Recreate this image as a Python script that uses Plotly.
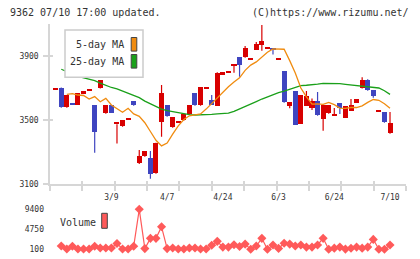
import plotly.graph_objects as go

# ---------------- data ----------------
days = list(range(61))
opens = [3688, 3700, 3579, 3608, 3596, 3664, 3683, 3595, 3698, 3541,
         3595, 3476, 3460, 3502, 3620, 3231, 3272, 3264, 3166, 3485,
         3595, 3454, 3482, 3497, 3537, 3670, 3591, 3695, 3627, 3589,
         3785, 3795, 3843, 3895, 3891, 3881, 3939, 3966, 3944, 3952,
         3876, 3808, 3585, 3683, 3477, 3589, 3577, 3620, 3508, 3541,
         3527, 3608, 3514, 3558, 3608, 3698, 3752, 3690, 3556, 3552,
         3416]
highs = [3688, 3705, 3654, 3608, 3670, 3683, 3683, 3595, 3752, 3595,
         3595, 3476, 3502, 3502, 3620, 3314, 3308, 3308, 3360, 3720,
         3595, 3520, 3482, 3537, 3595, 3670, 3708, 3695, 3658, 3800,
         3797, 3795, 3843, 3895, 3964, 3881, 3989, 4095, 3944, 3952,
         3876, 3808, 3614, 3683, 3658, 3683, 3637, 3677, 3596, 3595,
         3577, 3608, 3589, 3633, 3633, 3769, 3756, 3690, 3556, 3552,
         3552]
lows = [3688, 3579, 3579, 3596, 3596, 3664, 3683, 3297, 3698, 3541,
        3546, 3355, 3460, 3502, 3591, 3227, 3272, 3135, 3166, 3397,
        3522, 3454, 3482, 3497, 3537, 3591, 3591, 3695, 3595, 3589,
        3785, 3795, 3797, 3772, 3891, 3881, 3939, 3935, 3944, 3912,
        3876, 3610, 3575, 3470, 3477, 3589, 3564, 3529, 3435, 3541,
        3527, 3539, 3514, 3558, 3608, 3698, 3685, 3641, 3556, 3485,
        3416]
closes = [3688, 3579, 3654, 3596, 3670, 3683, 3683, 3422, 3752, 3595,
          3546, 3476, 3502, 3502, 3591, 3272, 3308, 3160, 3356, 3670,
          3522, 3520, 3482, 3537, 3595, 3591, 3708, 3695, 3595, 3794,
          3797, 3795, 3843, 3841, 3952, 3881, 3972, 3996, 3944, 3941,
          3876, 3610, 3614, 3470, 3658, 3652, 3620, 3529, 3596, 3595,
          3539, 3577, 3589, 3596, 3633, 3752, 3685, 3648, 3556, 3485,
          3483]

ma5_days = list(range(2, 61))
ma5 = [3662, 3667, 3658, 3655, 3633, 3648, 3616, 3637, 3596, 3575,
       3550, 3575, 3540, 3525, 3485, 3430, 3375, 3340, 3358, 3413,
       3465, 3505, 3528, 3534, 3540, 3570, 3606, 3644, 3677, 3710,
       3740, 3765, 3812, 3845, 3865, 3895, 3925, 3946, 3946, 3944,
       3873, 3795, 3702, 3646, 3601, 3603, 3600, 3612, 3598, 3576,
       3575, 3580, 3580, 3590, 3612, 3630, 3625, 3603, 3575]

ma25_days = list(range(1, 61))
ma25 = [3819, 3802, 3790, 3775, 3765, 3757, 3748, 3732, 3719, 3705,
        3697, 3683, 3672, 3656, 3642, 3620, 3603, 3585, 3570, 3560,
        3553, 3547, 3541, 3535, 3533, 3533, 3535, 3537, 3540, 3542,
        3545, 3556, 3570, 3584, 3598, 3617, 3633, 3648, 3661, 3673,
        3683, 3695, 3707, 3717, 3719, 3721, 3726, 3731, 3731, 3731,
        3729, 3725, 3721, 3716, 3713, 3710, 3707, 3702, 3685, 3662]

vol_days = list(range(1, 61))
volume = [800, 100, 750, 100, 100, 100, 750, 330, 330, 330,
          1400, 100, 100, 750, 9400, 200, 2600, 2600, 5300, 200,
          330, 100, 100, 330, 330, 100, 100, 1000, 1900, 550,
          550, 1100, 700, 1250, 50, 800, 2600, 50, 1050, 250,
          1450, 1250, 800, 1050, 550, 550, 1050, 2600, 50, 300,
          550, 80, 280, 550, 300, 550, 2350, 50, 50, 1050]

date_tick_days = [10, 20, 30, 40, 50, 60]
date_tick_labels = ["3/9", "4/7", "4/24", "6/3", "6/24", "7/10"]
price_ticks = [3100, 3500, 3900]
volume_ticks = [100, 4750, 9400]

# ---------------- style ----------------
W, H = 420, 259
ML, MR, MT, MB = 50, 14, 24, 4
RED = "#d80000"
BLUE = "#3f45c0"
ORANGE = "#f08c10"
GREEN = "#1aa01a"
VOLC = "#ff5a5a"
AXC = "#d6d6d6"
TXT = "#333333"
MONO = "DejaVu Sans Mono"
DOJI_H = 7  # minimal drawn body height (price units)

X_RANGE = [-1.02, 62.87]
P_RANGE = [3100, 4100]
V_RANGE = [-1300, 10880]


def xp(px):
    return (px - ML) / (W - ML - MR)


def yp(py):
    return (H - MB - py) / (H - MT - MB)


grid_ticks = [X_RANGE[0] + k * (X_RANGE[1] - X_RANGE[0]) / 11 for k in range(12)]

is_up = [c >= o for o, c in zip(opens, closes)]
colors = [RED if u else BLUE for u in is_up]
bases = [min(o, c) for o, c in zip(opens, closes)]
heights = [max(abs(c - o), DOJI_H) for o, c in zip(opens, closes)]

fig = go.Figure()

# wicks
for up, col in [(True, RED), (False, BLUE)]:
    wx, wy = [], []
    for d, hi, lo, u in zip(days, highs, lows, is_up):
        if u == up:
            wx += [d, d, None]
            wy += [lo, hi, None]
    fig.add_trace(go.Scatter(x=wx, y=wy, mode="lines",
                             line=dict(color=col, width=1.2),
                             showlegend=False, hoverinfo="skip",
                             xaxis="x", yaxis="y"))

# bodies
fig.add_trace(go.Bar(x=days, y=heights, base=bases, width=0.9,
                     marker=dict(color=colors, line=dict(width=0)),
                     showlegend=False, xaxis="x", yaxis="y"))

# moving averages
fig.add_trace(go.Scatter(x=ma25_days, y=ma25, mode="lines",
                         line=dict(color=GREEN, width=1.3),
                         showlegend=False, xaxis="x", yaxis="y"))
fig.add_trace(go.Scatter(x=ma5_days, y=ma5, mode="lines",
                         line=dict(color=ORANGE, width=1.3),
                         showlegend=False, xaxis="x", yaxis="y"))

# volume
fig.add_trace(go.Scatter(x=vol_days, y=volume, mode="lines+markers",
                         line=dict(color=VOLC, width=1.2),
                         marker=dict(symbol="diamond", size=7, color=VOLC),
                         showlegend=False, xaxis="x2", yaxis="y2"))

# helper traces for overlay axes
for xa, ya in [("x3", "y"), ("x4", "y"), ("x", "y3")]:
    fig.add_trace(go.Scatter(x=[None], y=[None], mode="lines",
                             showlegend=False, hoverinfo="skip",
                             xaxis=xa, yaxis=ya))

main_dom = [yp(184.3), yp(24.3)]
vol_dom = [yp(255), yp(203)]

tickfont = dict(family=MONO, size=8, color=TXT)

fig.update_layout(
    template="none",
    width=W, height=H,
    margin=dict(l=ML, r=MR, t=MT, b=MB, pad=0, autoexpand=False),
    paper_bgcolor="white", plot_bgcolor="white",
    showlegend=False,
    bargap=0,
    xaxis=dict(domain=[0, 1], range=X_RANGE, anchor="y", automargin=False,
               showgrid=False, zeroline=False,
               showline=True, linecolor=AXC, linewidth=1.5,
               tickmode="array", tickvals=grid_ticks,
               ticks="outside", ticklen=5, tickcolor=AXC, tickwidth=1.5,
               showticklabels=False),
    xaxis3=dict(overlaying="x", range=X_RANGE, anchor="y", automargin=False,
                showgrid=False, zeroline=False, showline=False,
                tickmode="array", tickvals=date_tick_days,
                ticktext=date_tick_labels, ticks="",
                ticklabelstandoff=7, tickfont=tickfont),
    xaxis4=dict(overlaying="x", range=X_RANGE, anchor="y", automargin=False,
                showgrid=False, zeroline=False, showline=False,
                tickmode="array", tickvals=grid_ticks,
                ticks="inside", ticklen=3, tickcolor=AXC, tickwidth=1.5,
                showticklabels=False),
    yaxis=dict(domain=main_dom, range=P_RANGE, anchor="x", automargin=False,
               showgrid=False, zeroline=False,
               showline=True, linecolor=AXC, linewidth=1.5,
               tickmode="array", tickvals=price_ticks,
               ticks="outside", ticklen=5, tickcolor=AXC, tickwidth=1.5,
               ticklabelstandoff=3, tickfont=tickfont),
    yaxis3=dict(overlaying="y", range=P_RANGE, anchor="x", automargin=False,
                showgrid=False, zeroline=False, showline=False,
                tickmode="array", tickvals=price_ticks,
                ticks="inside", ticklen=3, tickcolor=AXC, tickwidth=1.5,
                showticklabels=False),
    xaxis2=dict(domain=[0, 1], range=X_RANGE, anchor="y2", automargin=False,
                visible=False),
    yaxis2=dict(domain=vol_dom, range=V_RANGE, anchor="x2", automargin=False,
                showgrid=False, zeroline=False, showline=False,
                tickmode="array", tickvals=volume_ticks, ticks="",
                ticklabelstandoff=5, tickfont=tickfont),
)

shapes = []
annotations = []

# header texts
annotations.append(dict(xref="paper", yref="paper", x=xp(8), y=yp(13),
                        xanchor="left", yanchor="middle", showarrow=False,
                        text="9362 07/10 17:00 updated.",
                        font=dict(family=MONO, size=10, color=TXT)))
annotations.append(dict(xref="paper", yref="paper", x=xp(411), y=yp(13),
                        xanchor="right", yanchor="middle", showarrow=False,
                        text="(C)https://www.rizumu.net/",
                        font=dict(family=MONO, size=10, color=TXT)))

# price legend box
shapes.append(dict(type="rect", xref="paper", yref="paper", layer="above",
                   x0=xp(65), x1=xp(143), y0=yp(77.3), y1=yp(30),
                   fillcolor="white", line=dict(color="#cccccc", width=1.5)))
for label, col, cy in [("5-day MA", ORANGE, 44.3), ("25-day MA", GREEN, 61.3)]:
    annotations.append(dict(xref="paper", yref="paper", x=xp(125.5), y=yp(cy),
                            xanchor="right", yanchor="middle", showarrow=False,
                            text=label, font=dict(family=MONO, size=10, color=TXT)))
    shapes.append(dict(type="rect", xref="paper", yref="paper", layer="above",
                       x0=xp(131.2), x1=xp(136.8), y0=yp(cy + 6.8), y1=yp(cy - 6.8),
                       fillcolor=col, line=dict(color="#444444", width=1)))

# volume legend
annotations.append(dict(xref="paper", yref="paper", x=xp(57.5), y=yp(222),
                        xanchor="left", yanchor="middle", showarrow=False,
                        text="Volume", font=dict(family=MONO, size=10, color=TXT)))
shapes.append(dict(type="rect", xref="paper", yref="paper", layer="above",
                   x0=xp(101.7), x1=xp(107.3), y0=yp(228.3), y1=yp(213.3),
                   fillcolor=VOLC, line=dict(color="#444444", width=1)))

fig.update_layout(shapes=shapes, annotations=annotations)

fig.write_html("out.html")
